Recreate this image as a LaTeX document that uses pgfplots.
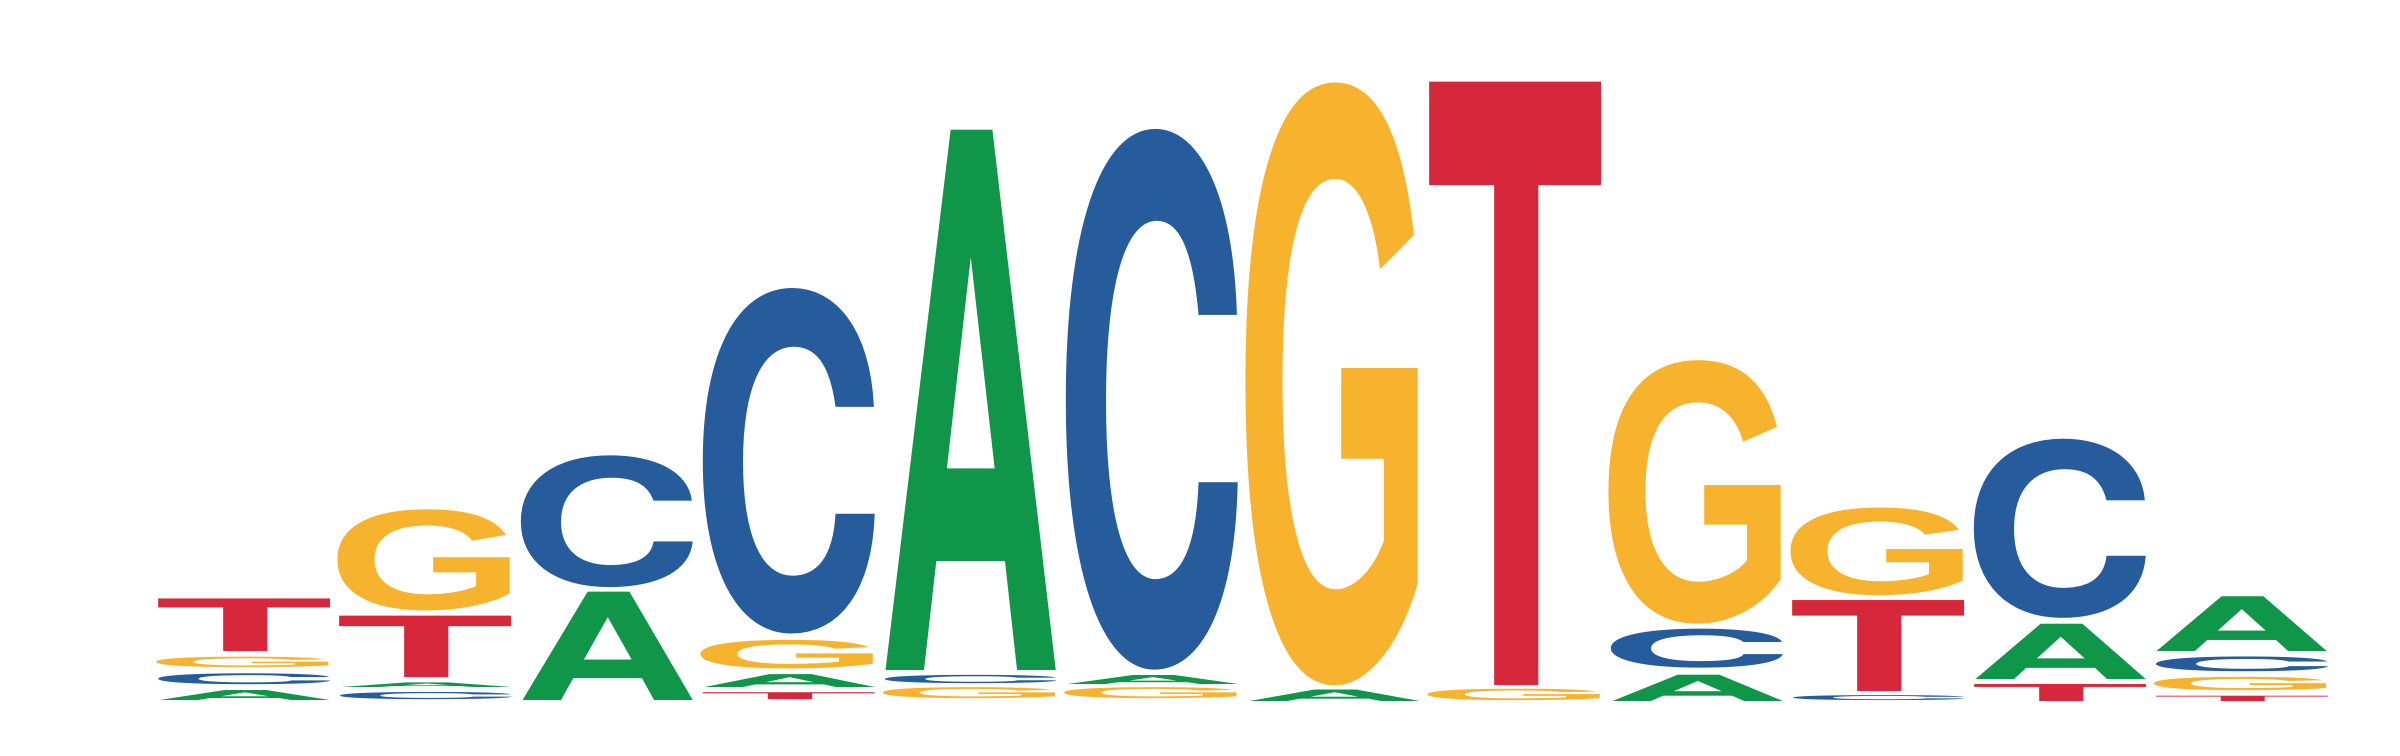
\documentclass[border=0pt]{standalone}
\usepackage{fontspec}
\setmainfont{TeX Gyre Heros}
\newfontfamily\gfont{Liberation Sans}
\usepackage{graphicx}
\usepackage{pgfplots}
\usepackage{pgfplotstable}
\pgfplotsset{compat=1.18}

\definecolor{ltA}{RGB}{16,150,72}
\definecolor{ltC}{RGB}{38,92,155}
\definecolor{ltG}{RGB}{247,178,46}
\definecolor{ltT}{RGB}{214,40,58}

% one reference pixel
\newdimen\pxu \pxu=0.01cm

% x = position, y = bottom of letter (px above baseline), h = letter height (px)
\pgfplotstableread{
x y h
1 1 10
2 13.8 4.6
3 1 108.4
4 13.5 12.9
5 31 540
6 16.4 9
7 0 11.5
9 0 26.3
11 21.4 55.3
12 49.2 54.8
}\dataA
\pgfplotstableread{
x y h
1 16.3 10.9
2 1 7.2
3 113.2 131.8
4 66.6 345.4
5 17.1 8.3
6 31 540
9 32.4 39
10 0 5
11 82.8 179.2
12 29.2 14.8
}\dataC
\pgfplotstableread{
x y h
1 33.5 10.5
2 90.3 101.1
4 32 28.5
5 2 11
6 2 11
7 15.4 603
8 0 11.5
9 76.5 263.5
10 105.3 87.7
12 10.6 13.4
}\dataG
\pgfplotstableread{
x y h
1 49.4 52.6
2 24 61.4
4 1.3 6.8
8 15.4 603
10 9.6 91
11 0 17
12 0 5.3
}\dataT

% letter, box width (side bearings included), colour, horizontal nudge
\pgfplotsset{
  logo letter/.style n args={4}{
    draw=none, mark=none,
    point meta=explicit symbolic,
    nodes near coords={\resizebox*{#2}{\pgfplotspointmeta\pxu}{\bfseries #1}},
    nodes near coords align={anchor=south},
    every node near coord/.append style={inner sep=0pt, outer sep=0pt, text=#3, xshift=#4},
  },
}

\begin{document}
\begin{tikzpicture}
\begin{axis}[
  scale only axis, width=24cm, height=7.55cm,
  xmin=-0.3436, xmax=12.872, ymin=-54, ymax=701,
  axis line style={draw=none}, ticks=none, clip=false,
]
\addplot[logo letter={A}{1.815cm}{ltA}{0pt}] table[x=x,y=y,meta=h] {\dataA};
\addplot[logo letter={C}{1.936cm}{ltC}{-0.5\pxu}] table[x=x,y=y,meta=h] {\dataC};
\addplot[logo letter={\gfont G}{1.985cm}{ltG}{1.2\pxu}] table[x=x,y=y,meta=h] {\dataG};
\addplot[logo letter={T}{1.798cm}{ltT}{0pt}] table[x=x,y=y,meta=h] {\dataT};
\end{axis}
\end{tikzpicture}
\end{document}
